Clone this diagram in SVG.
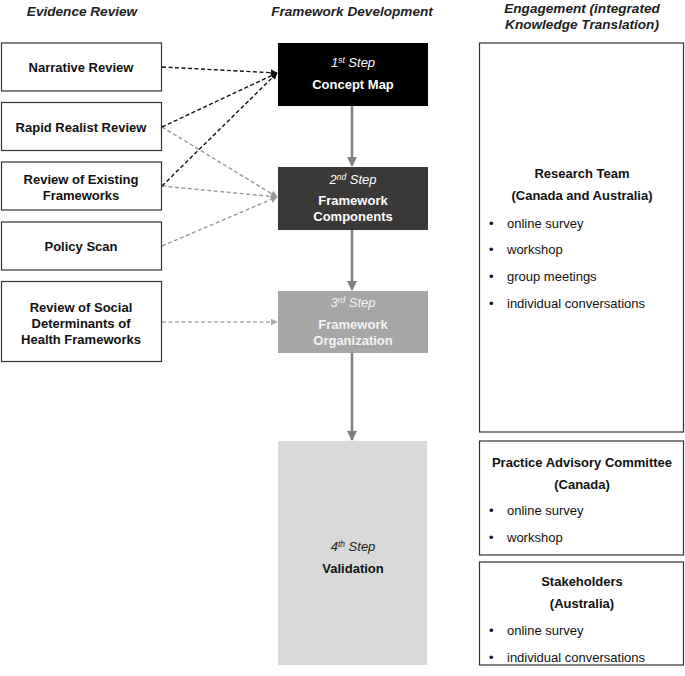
<svg xmlns="http://www.w3.org/2000/svg" width="685" height="676" viewBox="0 0 685 676">
<style>
text{font-family:"Liberation Sans",Arial,sans-serif;font-size:13px;}
.h{font-weight:bold;font-style:italic;font-size:13.6px;fill:#222;text-anchor:middle;}
.b{font-weight:bold;text-anchor:middle;fill:#111;}
.i{font-style:italic;text-anchor:middle;}
.t{fill:#111;}
.box{fill:#fff;stroke:#333;stroke-width:1.2;}
.dk{fill:none;stroke:#111;stroke-width:1.4;stroke-dasharray:4,2.5;}
.gr{fill:none;stroke:#999;stroke-width:1.4;stroke-dasharray:4,2.5;}
.lg{fill:none;stroke:#aaa;stroke-width:1.4;stroke-dasharray:4,2.5;}
.v{fill:none;stroke:#808080;stroke-width:2.5;}
</style>
<defs>
<marker id="ak" viewBox="0 0 10 10" refX="9" refY="5" markerWidth="5" markerHeight="5" orient="auto"><path d="M0,0L10,5L0,10z" fill="#111"/></marker>
<marker id="ag" viewBox="0 0 10 10" refX="9" refY="5" markerWidth="5" markerHeight="5" orient="auto"><path d="M0,0L10,5L0,10z" fill="#999"/></marker>
<marker id="al" viewBox="0 0 10 10" refX="9" refY="5" markerWidth="5" markerHeight="5" orient="auto"><path d="M0,0L10,5L0,10z" fill="#aaa"/></marker>
<marker id="av" viewBox="0 0 10 10" refX="9" refY="5" markerWidth="4" markerHeight="4" orient="auto"><path d="M0,0L10,5L0,10z" fill="#808080"/></marker>
</defs>

<g id="headers">
<text class="h" x="82" y="16">Evidence Review</text>
<text class="h" x="352" y="16">Framework Development</text>
<text class="h" x="582" y="13">Engagement (integrated</text>
<text class="h" x="582" y="29">Knowledge Translation)</text>
</g>

<g id="narrative"><rect class="box" x="1.5" y="43" width="160" height="48"/><text class="b" x="81" y="71.5">Narrative Review</text></g>
<g id="rapid"><rect class="box" x="1.5" y="102.5" width="160" height="48"/><text class="b" x="81" y="131.5">Rapid Realist Review</text></g>
<g id="existing"><rect class="box" x="1.5" y="162" width="160" height="48"/><text class="b" x="81" y="183.5">Review of Existing</text><text class="b" x="81" y="199.5">Frameworks</text></g>
<g id="policy"><rect class="box" x="1.5" y="222" width="160" height="48"/><text class="b" x="81" y="250.5">Policy Scan</text></g>
<g id="social"><rect class="box" x="1.5" y="281.5" width="160" height="80"/><text class="b" x="81" y="311.5">Review of Social</text><text class="b" x="81" y="327.5">Determinants of</text><text class="b" x="81" y="343.5">Health Frameworks</text></g>

<g id="step1"><rect x="278" y="43" width="150" height="63" fill="#000"/><text class="i" x="353" y="67" fill="#fff">1<tspan font-size="8.5" dy="-4">st</tspan><tspan dy="4"> Step</tspan></text><text class="b" x="353" y="88.5" style="fill:#fff">Concept Map</text></g>
<g id="step2"><rect x="278" y="167" width="150" height="63" fill="#3b3838"/><text class="i" x="353" y="184" fill="#fff">2<tspan font-size="8.5" dy="-4">nd</tspan><tspan dy="4"> Step</tspan></text><text class="b" x="353" y="204.5" style="fill:#fff">Framework</text><text class="b" x="353" y="220.5" style="fill:#fff">Components</text></g>
<g id="step3"><rect x="278" y="291" width="150" height="62" fill="#a6a6a6"/><text class="i" x="353" y="307" fill="#f2f2f2">3<tspan font-size="8.5" dy="-4">rd</tspan><tspan dy="4"> Step</tspan></text><text class="b" x="353" y="328.5" style="fill:#f2f2f2">Framework</text><text class="b" x="353" y="344.5" style="fill:#f2f2f2">Organization</text></g>
<g id="step4"><rect x="278" y="441" width="149" height="224" fill="#d9d9d9"/><text class="i" x="353" y="551" fill="#222">4<tspan font-size="8.5" dy="-4">th</tspan><tspan dy="4"> Step</tspan></text><text class="b" x="353" y="572.5">Validation</text></g>

<g id="research"><rect class="box" x="479.5" y="43" width="204" height="389"/>
<text class="b" x="582" y="177.5">Research Team</text>
<text class="b" x="582" y="199.5">(Canada and Australia)</text>
<text class="t" x="489" y="227.5">•</text><text class="t" x="507" y="227.5">online survey</text>
<text class="t" x="489" y="253.5">•</text><text class="t" x="507" y="253.5">workshop</text>
<text class="t" x="489" y="280.5">•</text><text class="t" x="507" y="280.5">group meetings</text>
<text class="t" x="489" y="307.5">•</text><text class="t" x="507" y="307.5">individual conversations</text>
</g>
<g id="pac"><rect class="box" x="479.5" y="441" width="204" height="114"/>
<text class="b" x="582" y="466.5">Practice Advisory Committee</text>
<text class="b" x="582" y="488.5">(Canada)</text>
<text class="t" x="489" y="514.5">•</text><text class="t" x="507" y="514.5">online survey</text>
<text class="t" x="489" y="541.5">•</text><text class="t" x="507" y="541.5">workshop</text>
</g>
<g id="stakeholders"><rect class="box" x="479.5" y="562" width="204" height="103"/>
<text class="b" x="582" y="585.5">Stakeholders</text>
<text class="b" x="582" y="607.5">(Australia)</text>
<text class="t" x="489" y="634.5">•</text><text class="t" x="507" y="634.5">online survey</text>
<text class="t" x="489" y="662">•</text><text class="t" x="507" y="662">individual conversations</text>
</g>

<g id="connectors">
<line class="gr" x1="162" y1="127" x2="277" y2="197" marker-end="url(#ag)"/>
<line class="gr" x1="162" y1="186" x2="277" y2="197" marker-end="url(#ag)"/>
<line class="gr" x1="162" y1="246" x2="277" y2="197" marker-end="url(#ag)"/>
<line class="lg" x1="162" y1="322" x2="277" y2="322" marker-end="url(#al)"/>
<line class="dk" x1="162" y1="67" x2="277" y2="73" marker-end="url(#ak)"/>
<line class="dk" x1="162" y1="127" x2="277" y2="73" marker-end="url(#ak)"/>
<line class="dk" x1="162" y1="186" x2="277" y2="73" marker-end="url(#ak)"/>
<line class="v" x1="352" y1="106" x2="352" y2="166" marker-end="url(#av)"/>
<line class="v" x1="352" y1="230" x2="352" y2="290" marker-end="url(#av)"/>
<line class="v" x1="352" y1="353" x2="352" y2="440" marker-end="url(#av)"/>
</g>
</svg>
